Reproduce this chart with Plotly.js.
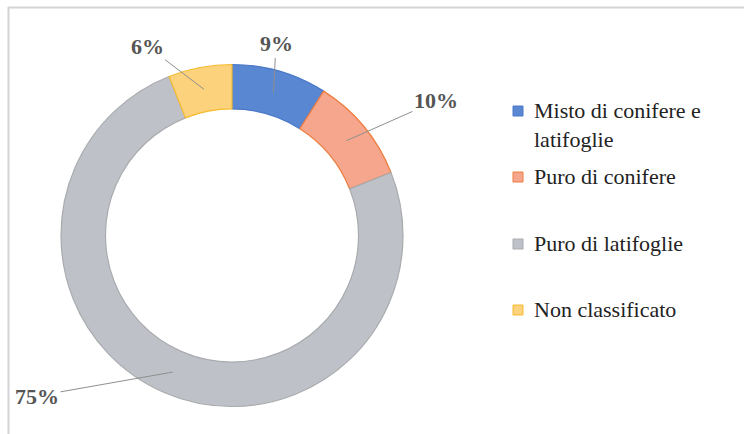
<!DOCTYPE html>
<html>
<head>
<meta charset="utf-8">
<script src="https://cdn.plot.ly/plotly-3.0.1.min.js"></script>
<style>
  html, body { margin: 0; padding: 0; background: #ffffff; }
  #chart { width: 744px; height: 434px; }
  #chart text.annotation-text, #chart text.annotation-text tspan { font-family: "Liberation Serif", "Times New Roman", serif !important; }
</style>
</head>
<body>
<div id="chart"></div>
<script>
// ---- data ----
const categories = ["Misto di conifere e latifoglie", "Puro di conifere", "Puro di latifoglie", "Non classificato"];
const values = [9, 10, 75, 6];
const fillColors = ["#5a87d2", "#f5a68c", "#bec2c8", "#fcd27c"];
const lineColors = ["#4a78c8", "#ee7d3f", "#a9abae", "#f5bb30"];

// ---- layout constants (pixels) ----
const W = 744, H = 434;
const cx = 232, cy = 235.5, R = 171, HOLE = 0.74;
const labelPos = [[276, 44], [436, 101], [37, 396], [147, 46]]; // label centres, same order as values
const legendX = 513, legendTextX = 532, legendRows = [111, 177, 244, 310];
const legendFont = 22;

const px = x => x / W;
const py = y => (H - y) / H;

const total = values.reduce((a, b) => a + b, 0);

const trace = {
  type: "pie",
  labels: categories,
  values: values,
  sort: false,
  direction: "clockwise",
  rotation: 0,
  hole: HOLE,
  textinfo: "none",
  hoverinfo: "label+percent",
  showlegend: false,
  marker: { colors: fillColors, line: { color: lineColors, width: 1.2 } },
  domain: { x: [px(cx - R), px(cx + R)], y: [py(cy + R), py(cy - R)] }
};

const annotations = [];
const shapes = [];

// percentage labels with leader lines, anchored at slice mid-angles
let cum = 0;
const rMid = R * (1 + HOLE) / 2;
values.forEach((v, i) => {
  const mid = (cum + v / 2) / total * 2 * Math.PI;
  cum += v;
  const ptx = cx + rMid * Math.sin(mid);
  const pty = cy - rMid * Math.cos(mid);
  annotations.push({
    xref: "paper", yref: "paper",
    x: px(ptx), y: py(pty),
    ax: labelPos[i][0] - ptx, ay: labelPos[i][1] - pty,
    text: "<b>" + Math.round(v / total * 100) + "%</b>",
    showarrow: true, arrowhead: 0, arrowwidth: 1, arrowcolor: "#8f8f8f",
    standoff: 0, startstandoff: 0,
    font: { family: "Liberation Serif", size: 22, color: "#555555" }
  });
});

// legend built from categories
function wrap(s, max) {
  const words = s.split(" ");
  const lines = [];
  let cur = "";
  words.forEach(w => {
    if ((cur + (cur ? " " : "") + w).length > max && cur) { lines.push(cur); cur = w; }
    else cur = cur + (cur ? " " : "") + w;
  });
  if (cur) lines.push(cur);
  return lines.join("<br>");
}
categories.forEach((c, i) => {
  const yc = legendRows[i];
  shapes.push({
    type: "rect", xref: "paper", yref: "paper",
    x0: px(legendX), x1: px(legendX + 10), y0: py(yc + 5), y1: py(yc - 5),
    fillcolor: fillColors[i], line: { color: lineColors[i], width: 1 }
  });
  annotations.push({
    xref: "paper", yref: "paper",
    x: px(legendTextX), y: py(yc - 15),
    xanchor: "left", yanchor: "top", align: "left",
    text: wrap(c, 19), showarrow: false,
    font: { family: "Liberation Serif", size: legendFont, color: "#222222" }
  });
});

// chart frame (top and left edges visible)
shapes.push({ type: "line", xref: "paper", yref: "paper", x0: px(8), x1: px(W + 5), y0: py(7.5), y1: py(7.5), line: { color: "#d4d4d4", width: 2 } });
shapes.push({ type: "line", xref: "paper", yref: "paper", x0: px(8.5), x1: px(8.5), y0: py(7), y1: py(H + 5), line: { color: "#d4d4d4", width: 2 } });

const layout = {
  width: W, height: H,
  margin: { l: 0, r: 0, t: 0, b: 0 },
  paper_bgcolor: "#ffffff",
  showlegend: false,
  annotations: annotations,
  shapes: shapes
};

Plotly.newPlot("chart", [trace], layout, { displayModeBar: false, staticPlot: true });
</script>
</body>
</html>
